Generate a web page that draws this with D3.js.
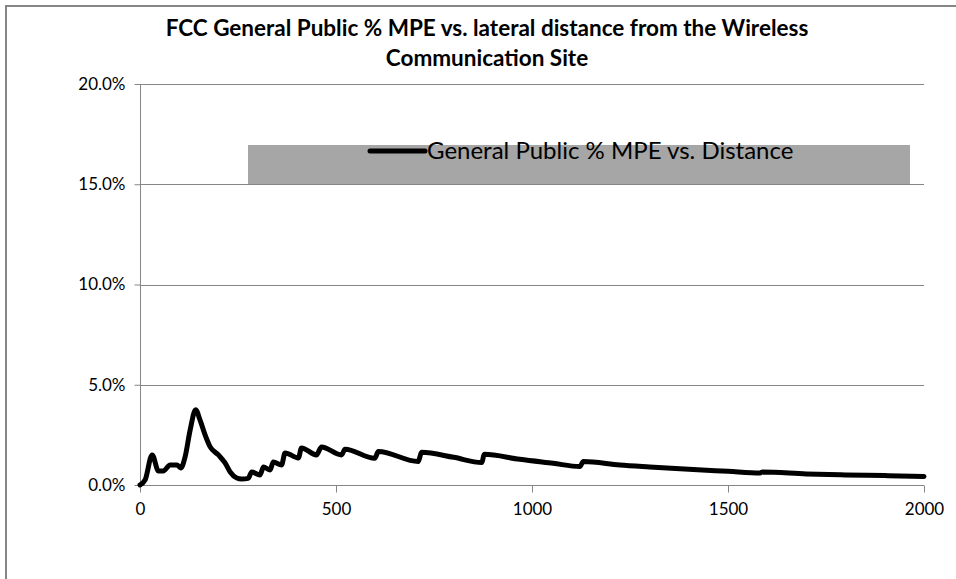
<!DOCTYPE html>
<html>
<head>
<meta charset="utf-8">
<script src="https://cdn.jsdelivr.net/npm/d3@7"></script>
<style>
  body { margin: 0; background: #fff; }
  svg text { font-family: Lato, "Open Sans", sans-serif; fill: #000; }
</style>
</head>
<body>
<div id="chart"></div>
<script>
// distance (ft) and % MPE (fraction)
const distance = [0, 13, 31, 47, 59, 77, 94, 104, 115, 128, 142, 153, 166, 179, 200, 217, 230, 247, 259, 276,
  285, 306, 315, 332, 340, 361, 370, 404, 412, 450, 463, 514, 523, 599, 608, 710, 718, 800, 872, 878, 969, 1054,
  1122, 1131, 1224, 1300, 1400, 1500, 1582, 1588, 1700, 1800, 1900, 2000];
const mpe = [0.0000, 0.0025, 0.0150, 0.0070, 0.0070, 0.0100, 0.0100, 0.0085, 0.0140, 0.0275, 0.0375, 0.0325, 0.0250,
  0.0190, 0.0150, 0.0110, 0.0065, 0.0035, 0.0030, 0.0033,
  0.0065, 0.0050, 0.0090, 0.0075, 0.0115, 0.0100, 0.0160, 0.0135, 0.0185, 0.0150, 0.0190, 0.0150, 0.0178, 0.0133,
  0.0167, 0.0117, 0.0163, 0.0138, 0.0112, 0.0153, 0.0128, 0.0108,
  0.0092, 0.0117, 0.0100, 0.0090, 0.0078, 0.0068, 0.0060, 0.0065, 0.0055, 0.0050, 0.0047, 0.0043];
const xTicks = [0, 500, 1000, 1500, 2000];
const yTicks = [0, 0.05, 0.10, 0.15, 0.20];
const titleLines = ["FCC General Public % MPE vs. lateral distance from the Wireless", "Communication Site"];
const legendLabel = "General Public % MPE vs. Distance";

const width = 956, height = 579;
const margin = {top: 84, right: 32, bottom: 94, left: 140};

const svg = d3.select("#chart").append("svg")
  .attr("width", width).attr("height", height);

// outer chart border (cut off at right and bottom)
svg.append("rect")
  .attr("x", 6).attr("y", 6).attr("width", 980).attr("height", 620)
  .attr("fill", "none").attr("stroke", "#868686").attr("stroke-width", 2);

const x = d3.scaleLinear().domain([0, 2000]).range([margin.left, width - margin.right]);
const y = d3.scaleLinear().domain([0, 0.20]).range([height - margin.bottom, margin.top]);

// gridlines
svg.append("g").selectAll("line").data(yTicks.slice(1)).join("line")
  .attr("x1", x(0)).attr("x2", x(2000))
  .attr("y1", d => Math.round(y(d)) + 0.5).attr("y2", d => Math.round(y(d)) + 0.5)
  .attr("stroke", "#868686").attr("stroke-width", 1);

// legend box
svg.append("rect")
  .attr("x", 248).attr("y", 145).attr("width", 662).attr("height", 39)
  .attr("fill", "#a6a6a6");
svg.append("line")
  .attr("x1", 370).attr("x2", 425).attr("y1", 151).attr("y2", 151)
  .attr("stroke", "#000").attr("stroke-width", 5).attr("stroke-linecap", "round");
svg.append("text")
  .attr("x", 427).attr("y", 151).attr("dy", "0.35em")
  .style("font-size", "24px").text(legendLabel);

// y axis
const yAxis = svg.append("g")
  .attr("transform", `translate(${x(0) + 0.5},0)`)
  .call(d3.axisLeft(y).tickValues(yTicks).tickFormat(d3.format(".1%")).tickSize(6).tickPadding(9));
yAxis.select(".domain").attr("stroke", "#868686").attr("d", `M0,${y(0.20)}V${y(0)}`);
yAxis.selectAll(".tick line").attr("stroke", "#868686");
yAxis.selectAll("text").style("font-size", "17px").style("font-family", "Lato, sans-serif");

// x axis
const xAxis = svg.append("g")
  .attr("transform", `translate(0,${Math.round(y(0)) + 0.5})`)
  .call(d3.axisBottom(x).tickValues(xTicks).tickFormat(d3.format("d")).tickSize(7).tickPadding(10));
xAxis.select(".domain").attr("stroke", "#868686").attr("d", `M${x(0)},0H${x(2000)}`);
xAxis.selectAll(".tick line").attr("stroke", "#868686");
xAxis.selectAll("text").style("font-size", "17px").style("font-family", "Lato, sans-serif");

// data line
const line = d3.line()
  .x((d, i) => x(distance[i]))
  .y(d => y(d))
  .curve(d3.curveMonotoneX);
svg.append("path")
  .attr("d", line(mpe))
  .attr("fill", "none").attr("stroke", "#000")
  .attr("stroke-width", 5).attr("stroke-linejoin", "round").attr("stroke-linecap", "round");

// title
svg.append("g").selectAll("text").data(titleLines).join("text")
  .attr("x", 487).attr("y", (d, i) => 28 + i * 30).attr("dy", "0.35em")
  .attr("text-anchor", "middle")
  .style("font-size", "22.5px").style("font-weight", "bold")
  .text(d => d);
</script>
</body>
</html>
